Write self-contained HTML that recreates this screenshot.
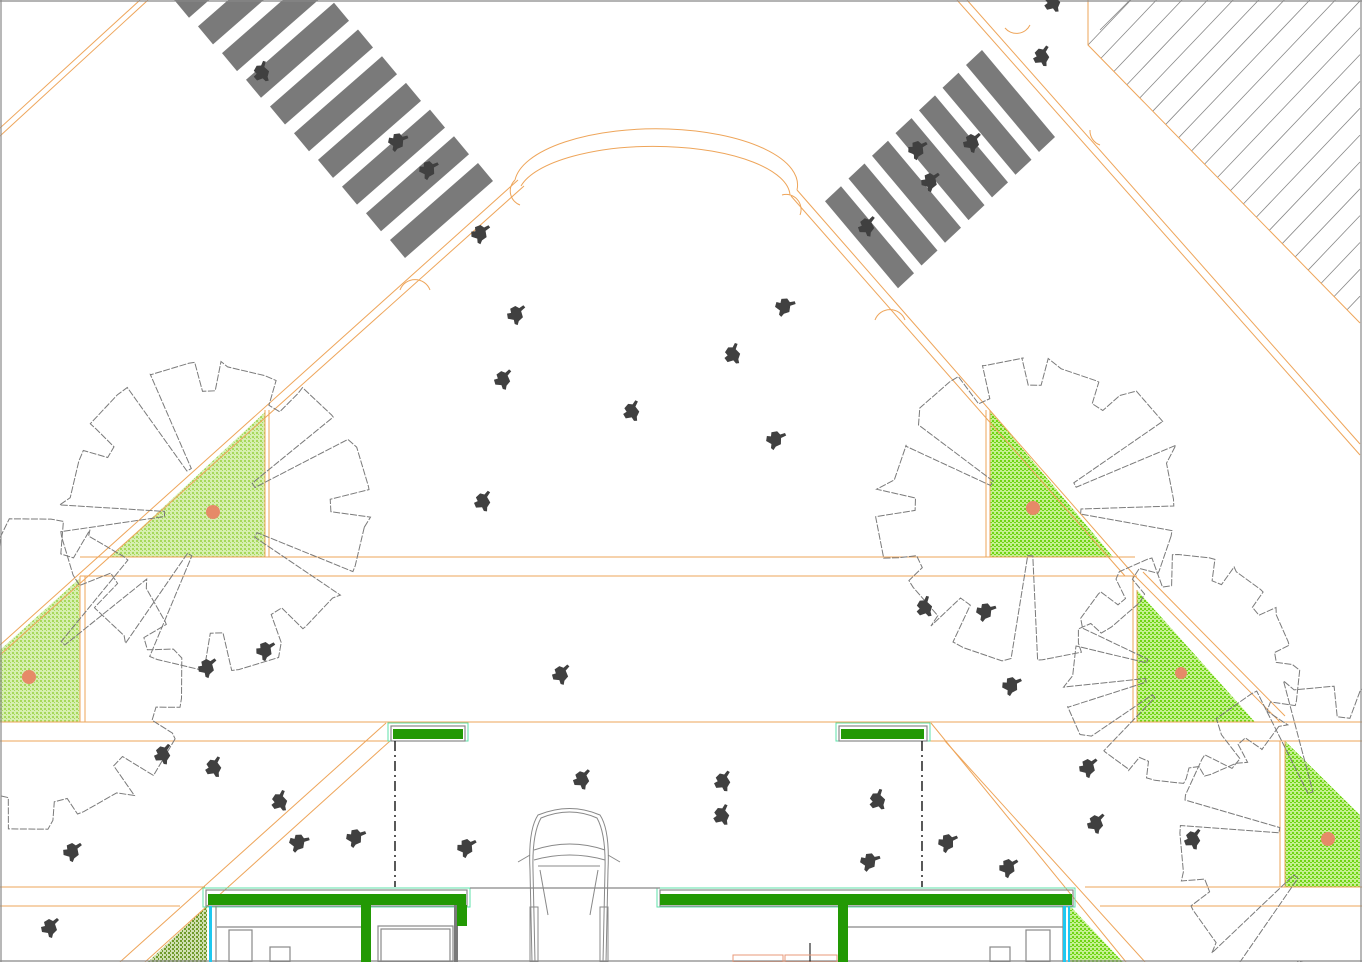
<!DOCTYPE html>
<html><head><meta charset="utf-8"><style>
html,body{margin:0;padding:0;background:#fff;width:1362px;height:962px;overflow:hidden}
svg{display:block}
</style></head><body>
<svg id="s" width="1362" height="962" viewBox="0 0 1362 962" xmlns="http://www.w3.org/2000/svg">
<defs>
<symbol id="p" viewBox="-11 -11 22 22" overflow="visible">
<path d="M-6,-6 L-1,-9 L3,-7 L7,-10 L9,-8 L5,-4 L7,2 L3,6 L2,10 L-1,9 L-2,5 L-8,4 L-9,-1 L-5,-2 Z" fill="#404040"/>
</symbol>
<pattern id="gl" width="4" height="4" patternUnits="userSpaceOnUse"><rect width="4" height="4" fill="#d6efb0"/><rect x="0" y="0" width="2" height="2" fill="#a6d85a"/><rect x="2" y="2" width="1" height="1" fill="#a6d85a"/></pattern>
<pattern id="gb" width="4" height="4" patternUnits="userSpaceOnUse"><rect width="4" height="4" fill="#c4f090"/><rect x="0" y="0" width="2" height="2" fill="#6fd414"/><rect x="2" y="2" width="2" height="1" fill="#6fd414"/></pattern>
<pattern id="gd" width="4" height="4" patternUnits="userSpaceOnUse"><rect width="4" height="4" fill="#cfe0b0"/><rect x="0" y="0" width="2" height="2" fill="#6f9a2a"/><rect x="2" y="2" width="1" height="2" fill="#6f9a2a"/></pattern>
</defs>
<rect width="1362" height="962" fill="#fff"/>

<polygon points="265,412 265,557 110,557" fill="url(#gl)"/>
<polygon points="80,578 80,722 0,722 0,650" fill="url(#gl)"/>
<polygon points="990,410 990,557 1113,557" fill="url(#gb)"/>
<polygon points="1137,590 1137,722 1255,722" fill="url(#gb)"/>
<polygon points="1285,741 1285,887 1360,887 1360,815" fill="url(#gb)"/>
<polygon points="207,906 207,962 148,962" fill="url(#gd)"/>
<polygon points="1070,906 1070,962 1123,962" fill="url(#gb)"/>

<g stroke="#888" stroke-width="0.8" id="hatch"></g>
<g fill="#7a7a7a" id="cw"></g>

<g stroke="#eea55a" stroke-width="1" fill="none">
<line x1="0" y1="128" x2="140" y2="0"/><line x1="0" y1="136" x2="148" y2="0"/>
<line x1="518" y1="180" x2="0" y2="645"/><line x1="524" y1="186" x2="0" y2="655"/>
<path d="M515,180 A141,56 0 0 1 797,190"/><path d="M521,186 A136,50 0 0 1 790,195"/>
<line x1="797" y1="190" x2="1135" y2="576"/><line x1="791" y1="196" x2="1125" y2="576"/>
<line x1="1135" y1="576" x2="1280" y2="722"/><line x1="1143" y1="572" x2="1285" y2="716"/>
<line x1="957" y1="0" x2="1360" y2="455"/><line x1="967" y1="0" x2="1360" y2="444"/>
<path d="M1088,0 L1088,45 L1360,323"/>
<line x1="80" y1="557" x2="1135" y2="557"/>
<line x1="80" y1="576" x2="1137" y2="576"/>
<line x1="265" y1="410" x2="265" y2="557"/><line x1="269" y1="410" x2="269" y2="557"/>
<line x1="986" y1="410" x2="986" y2="557"/><line x1="990" y1="410" x2="990" y2="557"/>
<line x1="80" y1="576" x2="80" y2="722"/><line x1="85" y1="576" x2="85" y2="722"/>
<line x1="1133" y1="576" x2="1133" y2="722"/><line x1="1137" y1="590" x2="1137" y2="722"/>
<line x1="0" y1="722" x2="1362" y2="722"/>
<line x1="0" y1="741" x2="390" y2="741"/><line x1="930" y1="741" x2="1362" y2="741"/>
<line x1="1280" y1="741" x2="1280" y2="887"/><line x1="1285" y1="741" x2="1285" y2="887"/>
<line x1="0" y1="887" x2="205" y2="887"/><line x1="0" y1="906" x2="180" y2="906"/>
<line x1="1085" y1="887" x2="1362" y2="887"/><line x1="1100" y1="906" x2="1362" y2="906"/>
<line x1="386" y1="723" x2="120" y2="962"/><line x1="390" y1="741" x2="145" y2="962"/>
<line x1="931" y1="723" x2="1126" y2="962"/><line x1="945" y1="741" x2="1145" y2="962"/>
<path d="M400,290 A16,16 0 0 1 430,290"/><path d="M515,180 A15,15 0 0 0 520,205"/>
<path d="M782,195 A15,15 0 0 1 800,215"/><path d="M875,320 A16,16 0 0 1 905,320"/>
<path d="M1005,28 A15,15 0 0 0 1030,25"/><path d="M1090,130 A15,15 0 0 0 1100,145"/>
</g>

<g id="trees" stroke="#7a7a7a" stroke-width="1" fill="none" stroke-dasharray="7 1.5"></g>

<g fill="#e68a68"><circle cx="213" cy="512" r="7"/><circle cx="29" cy="677" r="7"/><circle cx="1033" cy="508" r="7"/><circle cx="1181" cy="673" r="6"/><circle cx="1328" cy="839" r="7"/></g>

<g fill="none" stroke="#5ee0a8" stroke-width="1"><rect x="388" y="723" width="80" height="18"/><rect x="836" y="723" width="94" height="18"/><rect x="203" y="888" width="267" height="19"/><rect x="657" y="888" width="418" height="19"/></g>
<g fill="none" stroke="#888" stroke-width="1.2"><rect x="391" y="726" width="74" height="15"/><rect x="839" y="726" width="88" height="15"/><rect x="206" y="890" width="261" height="16"/><rect x="660" y="890" width="413" height="16"/>
<line x1="470" y1="888" x2="660" y2="888"/>
<line x1="217" y1="927" x2="362" y2="927"/><line x1="848" y1="927" x2="1063" y2="927"/>
<rect x="229" y="930" width="23" height="32"/><rect x="378" y="926" width="75" height="36"/><rect x="381" y="929" width="69" height="33"/>
<rect x="1026" y="930" width="24" height="32"/><rect x="270" y="947" width="20" height="15"/><rect x="990" y="947" width="20" height="15"/>
<line x1="216" y1="906" x2="216" y2="962"/><line x1="1063" y1="906" x2="1063" y2="962"/>
<line x1="0" y1="961" x2="1362" y2="961"/><line x1="0" y1="1" x2="1362" y2="1"/><line x1="1" y1="0" x2="1" y2="962"/><line x1="1361" y1="0" x2="1361" y2="962"/>
</g>
<rect x="454" y="905" width="4" height="57" fill="#7a7a7a"/>
<g fill="#229904"><rect x="393" y="729" width="70" height="10"/><rect x="841" y="729" width="83" height="10"/><rect x="208" y="894" width="258" height="11"/><rect x="361" y="905" width="10" height="57"/><rect x="457" y="905" width="10" height="21"/><rect x="660" y="894" width="412" height="11"/><rect x="838" y="905" width="10" height="57"/></g>
<g fill="#1ec8f0"><rect x="209" y="906" width="3" height="56"/><rect x="1063" y="906" width="3" height="56"/><rect x="1068" y="906" width="2" height="56"/></g>
<g stroke="#000" stroke-width="1.3" stroke-dasharray="10 4 2 4"><line x1="395" y1="741" x2="395" y2="887"/><line x1="922" y1="741" x2="922" y2="887"/></g>
<line x1="810" y1="943" x2="810" y2="962" stroke="#000"/>
<g fill="none" stroke="#e89878"><rect x="733" y="955" width="50" height="7"/><rect x="785" y="955" width="52" height="7"/></g>

<g fill="none" stroke="#888" stroke-width="1">
<path d="M532,962 L530,870 Q528,830 538,815 Q570,802 600,815 Q610,830 608,870 L606,962"/>
<path d="M535,962 L533,870 Q532,834 541,818 Q570,806 597,818 Q606,834 605,870 L603,962"/>
<path d="M534,850 Q570,838 605,850"/><path d="M534,860 Q570,850 605,860"/>
<path d="M538,866 L600,866"/><path d="M530,855 L518,862"/><path d="M608,855 L620,862"/>
<rect x="530" y="907" width="8" height="55"/><rect x="600" y="907" width="8" height="55"/>
<path d="M540,870 L548,915"/><path d="M598,870 L590,915"/>
</g>

<g id="ppl"></g>
</svg>
<script>
var NS="http://www.w3.org/2000/svg";
function el(t,a,par){var e=document.createElementNS(NS,t);for(var k in a)e.setAttribute(k,a[k]);par.appendChild(e);return e;}
var h=document.getElementById('hatch');
for(var k=0;k<22;k++){
  var t=k/21; var bx=1088+t*272, by=45+t*278;
  var len=(by)/1.05; var ex=bx+len, ey=0;
  if(ex>1360){ey=by-(1360-bx)*1.05; ex=1360;}
  el('line',{x1:bx,y1:by,x2:ex,y2:ey},h);
}
el('line',{x1:1100,y1:30,x2:1130,y2:0},h);
var cw=document.getElementById('cw');
for(var i=0;i<10;i++){var px=390-i*24,py=240-i*26.7;
 el('polygon',{points:[px,py,px+88,py-77,px+103,py-59,px+15,py+18].join(' ')},cw);}
for(var i=0;i<7;i++){var px=966-i*23.5,py=65+i*22.7;
 el('polygon',{points:[px,py,px+16,py-15,px+89,py+72,px+73,py+87].join(' ')},cw);}
var tr=document.getElementById('trees');
var seed=7;function rnd(){seed=(seed*9301+49297)%233280;return seed/233280;}
function tree(cx,cy,r,rot){
 var pts=[],n=12;
 for(var i=0;i<n;i++){
  var a0=rot+i*2*Math.PI/n, a1=a0+2*Math.PI/n;
  var rr=r*(0.88+rnd()*0.12);
  pts.push([cx+rr*Math.cos(a0),cy+rr*Math.sin(a0)]);
  var am=a0+0.5*(a1-a0);
  pts.push([cx+rr*Math.cos(am),cy+rr*Math.sin(am)]);
  var notch=a0+(0.6+rnd()*0.2)*(a1-a0), nw=0.07;
  pts.push([cx+rr*Math.cos(notch-nw),cy+rr*Math.sin(notch-nw)]);
  var d=rnd()<0.2?r*0.3:r*(0.72+rnd()*0.1);
  pts.push([cx+d*Math.cos(notch-nw*0.5),cy+d*Math.sin(notch-nw*0.5)]);
  pts.push([cx+d*Math.cos(notch+nw),cy+d*Math.sin(notch+nw)]);
  pts.push([cx+rr*Math.cos(notch+nw*1.5),cy+rr*Math.sin(notch+nw*1.5)]);
 }
 el('polygon',{points:pts.map(function(p){return p[0].toFixed(1)+','+p[1].toFixed(1)}).join(' ')},tr);
}
tree(213,512,162,0.1);tree(29,677,160,0.4);tree(1033,508,160,0.2);tree(1181,673,120,0.5);tree(1328,839,165,0.3);
var pp=[[262,73],[397,142],[428,170],[480,234],[516,315],[503,380],[483,502],[632,412],[733,355],[784,307],[775,440],[917,150],[930,182],[972,143],[867,227],[1042,57],[1053,3],[925,608],[985,612],[1011,686],[265,651],[207,668],[561,675],[163,755],[214,768],[280,802],[298,843],[355,838],[466,848],[72,852],[50,928],[582,780],[723,782],[722,816],[878,801],[869,862],[947,843],[1008,868],[1088,768],[1096,824],[1193,840]];
var g=document.getElementById('ppl');
pp.forEach(function(p,i){el('use',{href:'#p',x:p[0]-11,y:p[1]-11,width:22,height:22,transform:'rotate('+((i*53)%60-30)+' '+p[0]+' '+p[1]+')'},g);});
</script>
</body></html>
